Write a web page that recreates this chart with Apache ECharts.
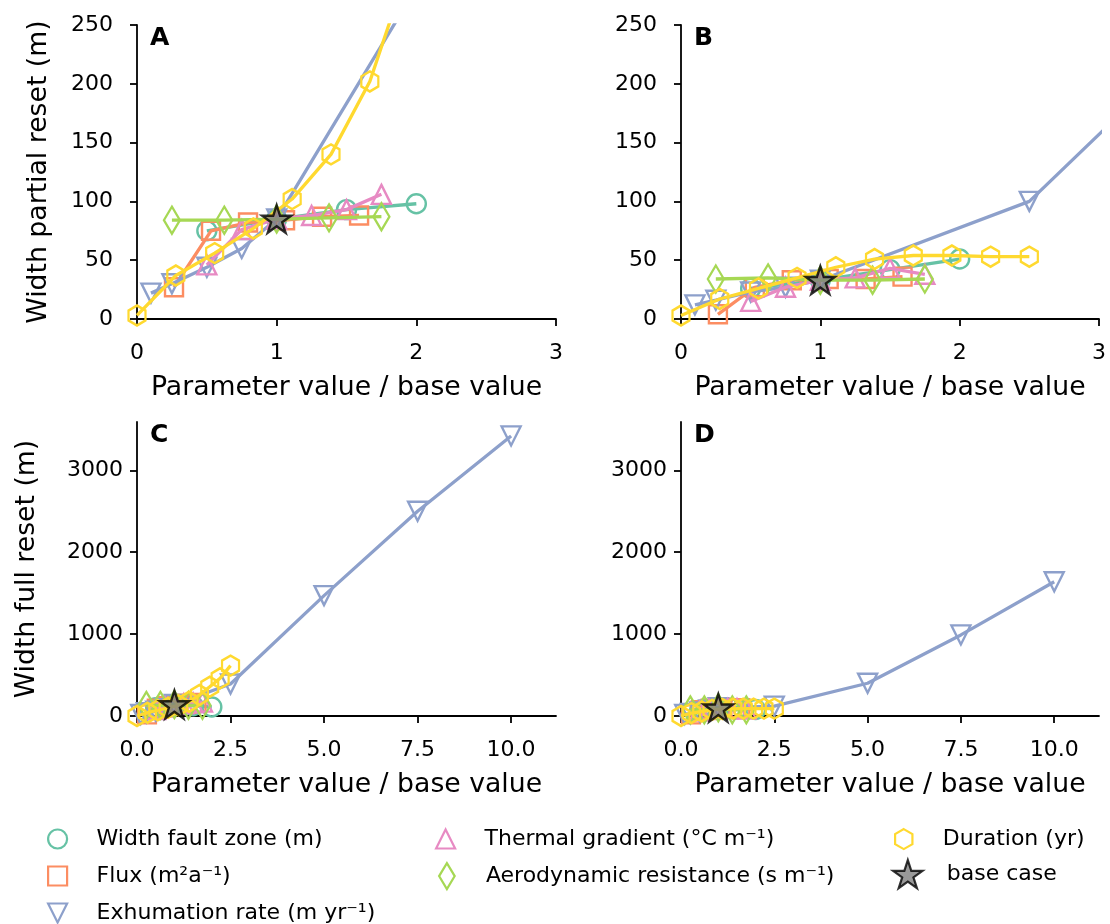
<!DOCTYPE html>
<html>
<head>
<meta charset="utf-8">
<script src="https://cdn.jsdelivr.net/npm/echarts@6/dist/echarts.min.js"></script>
<style>
html,body{margin:0;padding:0;background:#fff;}
#chart{width:1110px;height:924px;}
</style>
</head>
<body>
<div id="chart"></div>
<script>
// ---------------- DATA ----------------
const panelLetters = ['A', 'B', 'C', 'D'];
const seriesNames = ['Width fault zone (m)', 'Flux (m\u00B2a\u207B\u00B9)', 'Exhumation rate (m yr\u207B\u00B9)',
  'Thermal gradient (\u00B0C m\u207B\u00B9)', 'Aerodynamic resistance (s m\u207B\u00B9)', 'Duration (yr)'];
const baseName = 'base case';

// parameter value / base value for each series
const xFault = [0.5, 1, 1.5, 2];
const xFlux = [0.265, 0.53, 0.795, 1.06, 1.325, 1.59];
const xExhum = [0.1, 0.25, 0.5, 0.75, 1, 2.5, 5, 7.5, 10];
const xThermal = [0.5, 0.75, 1, 1.25, 1.5, 1.75];
const xAero = [0.25, 0.625, 1, 1.375, 1.75];
const xDuration = [0, 0.278, 0.556, 0.833, 1.111, 1.389, 1.667, 1.944, 2.222, 2.5];
const baseX = 1;

// Panel A - width partial reset
const faultA = [75, 85, 93, 98];
const fluxA = [27, 75, 82, 84, 87, 88];
const exhumA = [22, 30, 44, 60, 85, 380, 1470, 2500, 3420];
const thermalA = [46, 76, 85, 88, 93, 106];
const aeroA = [84, 84, 85, 86, 87];
const durationA = [3, 37, 56, 77, 102, 140, 202, 300, 440, 615];
const baseA = 85;

// Panel B - width partial reset
const faultB = [26, 33, 42, 51];
const fluxB = [4, 27, 33, 34, 34, 36];
const exhumB = [12, 16, 23, 27, 33, 100, 385, 990, 1640];
const thermalB = [15, 27, 33, 35, 43, 38];
const aeroB = [34, 35, 33, 33, 34];
const durationB = [3, 17, 26, 35, 44, 51, 54, 54, 53, 53];
const baseB = 33;

// Panel C - width full reset
const faultC = [100, 140, 125, 110];
const fluxC = [20, 90, 120, 140, 150, 160];
const exhumC = [20, 40, 60, 90, 140, 390, 1470, 2500, 3420];
const thermalC = [80, 110, 140, 150, 160, 170];
const aeroC = [130, 130, 140, 130, 130];
const durationC = [0, 40, 70, 100, 130, 174, 256, 357, 460, 615];
const baseC = 140;

// Panel D - width full reset
const faultD = [70, 100, 90, 80];
const fluxD = [20, 70, 90, 100, 95, 95];
const exhumD = [20, 30, 50, 70, 100, 120, 400, 990, 1640];
const thermalD = [60, 80, 100, 90, 90, 85];
const aeroD = [75, 75, 100, 75, 75];
const durationD = [0, 35, 55, 75, 85, 90, 90, 90, 90, 90];
const baseD = 100;

// axis ticks
const xTicksTop = [0, 1, 2, 3];
const yTicksTop = [0, 50, 100, 150, 200, 250];
const xTicksBottom = [0, 2.5, 5, 7.5, 10];
const yTicksBottom = [0, 1000, 2000, 3000];
const xTitle = 'Parameter value / base value';
const yTitleTop = 'Width partial reset (m)';
const yTitleBottom = 'Width full reset (m)';

// ---------------- STYLE ----------------
const FONT = 'DejaVu Sans';
const COLORS = ['#66c2a5', '#fc8d62', '#8da0cb', '#e78ac3', '#a6d854', '#ffd92f'];
const HEX = 'path://M5,0 L9.33,2.5 L9.33,7.5 L5,10 L0.67,7.5 L0.67,2.5 Z';
const DIAMOND = 'path://M3,0 L6,5 L3,10 L0,5 Z';
const DOWNTRI = 'path://M0,0 L10,0 L5,10 Z';
const UPTRI = 'path://M5,0 L10,10 L0,10 Z';
const SQUARE = 'path://M0,0 L10,0 L10,10 L0,10 Z';
const CIRCLE = 'path://M10,0 A10,10 0 1 1 10,20 A10,10 0 1 1 10,0 Z';
const STAR = 'path://M50,0 L61.23,34.55 L97.55,34.55 L68.16,55.9 L79.39,90.45 L50,69.1 L20.61,90.45 L31.84,55.9 L2.45,34.55 L38.77,34.55 Z';
const SYMBOLS = [
  {symbol: 'circle', size: 19, rotate: 0, icon: CIRCLE, legendH: 19},
  {symbol: 'rect', size: 18, rotate: 0, icon: SQUARE, legendH: 19},
  {symbol: 'triangle', size: 19, rotate: 180, icon: DOWNTRI, legendH: 19},
  {symbol: 'triangle', size: 19, rotate: 0, icon: UPTRI, legendH: 19},
  {symbol: DIAMOND, size: [16, 27], rotate: 0, icon: DIAMOND, legendH: 26},
  {symbol: HEX, size: [17, 20], rotate: 0, icon: HEX, legendH: 20}
];

const GRIDS = [
  {left: 137, top: 25, width: 419, height: 294},
  {left: 681, top: 25, width: 418, height: 294},
  {left: 137, top: 422, width: 419, height: 294},
  {left: 681, top: 422, width: 418, height: 294}
];
// legend placement: [left, rowCenterY] of each entry
const LEGEND_POS = [[47, 838], [47, 875], [47, 912], [435, 838], [438, 875], [894, 838]];
const BASE_LEGEND_POS = [892, 873];

const xs = [xFault, xFlux, xExhum, xThermal, xAero, xDuration];
const ysByPanel = [
  [faultA, fluxA, exhumA, thermalA, aeroA, durationA],
  [faultB, fluxB, exhumB, thermalB, aeroB, durationB],
  [faultC, fluxC, exhumC, thermalC, aeroC, durationC],
  [faultD, fluxD, exhumD, thermalD, aeroD, durationD]
];
const bases = [baseA, baseB, baseC, baseD];

const axisLineStyle = {color: '#000', width: 1.8};
const tickStyle = {color: '#000', width: 1.8};

function makeX(i) {
  const top = i < 2;
  const ticks = top ? xTicksTop : xTicksBottom;
  return {
    type: 'value', gridIndex: i,
    min: 0, max: top ? 3 : 11.2,
    name: xTitle, nameLocation: 'middle', nameGap: 56,
    nameTextStyle: {fontFamily: FONT, fontSize: 26.7, color: '#000'},
    axisLine: {show: true, onZero: false, lineStyle: axisLineStyle},
    axisTick: {show: true, inside: false, length: 7, lineStyle: tickStyle, customValues: ticks},
    axisLabel: {show: true, fontFamily: FONT, fontSize: 22, color: '#000', margin: 23,
      customValues: ticks,
      formatter: v => top ? String(v) : Number(v).toFixed(1)},
    splitLine: {show: false}
  };
}
function makeY(i) {
  const top = i < 2;
  const ticks = top ? yTicksTop : yTicksBottom;
  const showName = (i % 2 === 0);
  return {
    type: 'value', gridIndex: i,
    min: 0, max: top ? 250 : 3590,
    name: showName ? (top ? yTitleTop : yTitleBottom) : '',
    nameLocation: 'middle', nameGap: top ? 84 : 96,
    nameTextStyle: {fontFamily: FONT, fontSize: 26.7, color: '#000'},
    axisLine: {show: true, onZero: false, lineStyle: axisLineStyle},
    axisTick: {show: true, inside: false, length: 7, lineStyle: tickStyle, customValues: ticks},
    axisLabel: {show: true, fontFamily: FONT, fontSize: 22, color: '#000', margin: top ? 24 : 14,
      customValues: ticks, formatter: v => String(v)},
    splitLine: {show: false}
  };
}

const series = [];
for (let p = 0; p < 4; p++) {
  for (let s = 0; s < 6; s++) {
    const c = COLORS[s];
    const sy = SYMBOLS[s];
    series.push({
      type: 'line', name: seriesNames[s], xAxisIndex: p, yAxisIndex: p,
      data: xs[s].map((x, k) => [x, ysByPanel[p][s][k]]),
      symbol: sy.symbol, symbolSize: sy.size, symbolRotate: sy.rotate, showSymbol: true,
      showAllSymbol: true,
      lineStyle: {color: c, width: 3.3},
      itemStyle: {color: 'rgba(0,0,0,0)', borderColor: c, borderWidth: 2.4},
      clip: true, z: 2 + s * 0.01, silent: true, emphasis: {disabled: true}
    });
  }
  series.push({
    type: 'scatter', name: baseName, xAxisIndex: p, yAxisIndex: p,
    data: [[baseX, bases[p]]],
    symbol: STAR, symbolSize: 29, symbolKeepAspect: true,
    itemStyle: {color: '#808080', borderColor: '#000', borderWidth: 2.4},
    z: 5, silent: true, emphasis: {disabled: true}
  });
}

const legendCommon = {
  orient: 'vertical', itemWidth: 68, itemGap: 10, padding: 0,
  selectedMode: false, symbolKeepAspect: true,
  textStyle: {fontFamily: FONT, fontSize: 22, color: '#000', lineHeight: 20}
};
const legends = seriesNames.map((n, s) => {
  const h = SYMBOLS[s].legendH;
  return Object.assign({}, legendCommon, {
    left: LEGEND_POS[s][0], top: LEGEND_POS[s][1] - Math.max(h, 20) / 2,
    itemHeight: h,
    data: [{name: n, icon: SYMBOLS[s].icon,
      itemStyle: {color: 'rgba(0,0,0,0)', borderColor: COLORS[s], borderWidth: 2.2}}]
  });
});
legends.push(Object.assign({}, legendCommon, {
  left: BASE_LEGEND_POS[0], top: BASE_LEGEND_POS[1] - 14, itemHeight: 28,
  data: [{name: baseName, icon: STAR, itemStyle: {color: '#808080', borderColor: '#000', borderWidth: 2.2}}]
}));

const option = {
  animation: false,
  backgroundColor: '#fff',
  grid: GRIDS.map(g => Object.assign({containLabel: false}, g)),
  xAxis: [0, 1, 2, 3].map(makeX),
  yAxis: [0, 1, 2, 3].map(makeY),
  series: series,
  legend: legends,
  graphic: panelLetters.map((t, i) => ({
    type: 'text', left: GRIDS[i].left + 13, top: GRIDS[i].top + 1,
    style: {text: t, fontFamily: FONT, fontWeight: 'bold', fontSize: 25, fill: '#000'}
  }))
};

const chart = echarts.init(document.getElementById('chart'), null, {renderer: 'canvas'});
chart.setOption(option);
</script>
</body>
</html>
